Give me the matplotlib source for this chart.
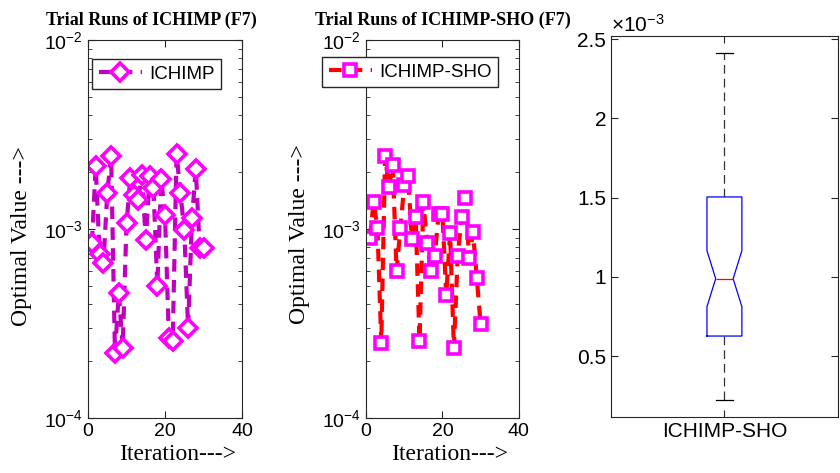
import numpy as np
import matplotlib
matplotlib.use("Agg")
import matplotlib.pyplot as plt
from matplotlib.ticker import FuncFormatter, LogLocator, NullFormatter

plt.rcParams['font.family'] = ['Liberation Sans', 'DejaVu Sans']
plt.rcParams['mathtext.default'] = 'regular'
plt.rcParams['axes.unicode_minus'] = False

# trial runs
iters = np.arange(1, 31)
ichimp = [8.4e-4, 2.15e-3, 7.4e-4, 6.6e-4, 1.55e-3, 2.44e-3, 2.2e-4, 4.6e-4, 2.35e-4, 1.07e-3,
          1.87e-3, 1.52e-3, 1.43e-3, 1.94e-3, 8.7e-4, 1.9e-3, 1.65e-3, 5.0e-4, 1.83e-3, 1.19e-3,
          2.65e-4, 2.55e-4, 2.49e-3, 1.55e-3, 9.9e-4, 3.0e-4, 1.14e-3, 2.07e-3, 7.9e-4, 7.9e-4]
ichimp_sho = [8.96e-4, 1.39e-3, 1.01e-3, 2.5e-4, 2.43e-3, 1.67e-3, 2.17e-3, 6.0e-4, 1.01e-3, 1.70e-3,
              1.91e-3, 8.9e-4, 1.16e-3, 2.55e-4, 1.39e-3, 8.4e-4, 6.0e-4, 7.2e-4, 1.2e-3, 1.2e-3,
              4.46e-4, 9.5e-4, 2.35e-4, 7.2e-4, 1.16e-3, 1.46e-3, 7.0e-4, 9.6e-4, 5.5e-4, 3.13e-4]

# box plot stats
box_label = 'ICHIMP-SHO'
box_med = 0.988e-3
box_q1 = 0.626e-3
box_q3 = 1.504e-3
box_lo = 0.222e-3
box_hi = 2.415e-3
box_cilo = 0.811e-3
box_cihi = 1.165e-3
box_ticks = [0.5e-3, 1e-3, 1.5e-3, 2e-3, 2.5e-3]

spine_c = '#262626'
serif = ['Liberation Serif', 'DejaVu Serif']

fig = plt.figure(figsize=(8.4, 4.73), dpi=100)

def style_log(ax):
    ax.set_yscale('log')
    ax.set_ylim(1e-4, 1e-2)
    ax.set_xlim(0, 40)
    ax.set_xticks([0, 20, 40])
    ax.yaxis.set_minor_locator(LogLocator(base=10, subs=np.arange(2, 10)))
    ax.yaxis.set_minor_formatter(NullFormatter())
    ax.tick_params(which='both', direction='in', top=True, right=True, labelsize=14, colors=spine_c)
    ax.tick_params(which='major', length=5)
    ax.tick_params(which='minor', length=3)
    ax.tick_params(labelcolor='black')
    for s in ax.spines.values():
        s.set_color(spine_c)
        s.set_linewidth(0.8)
    ax.set_ylabel('Optimal Value --->', family=serif, fontsize=17)
    ax.set_xlabel('Iteration--->', family=serif, fontsize=17)

# left panel
ax1 = fig.add_axes([0.1048, 0.1163, 0.1833, 0.799])
ax1.plot(iters, ichimp, color='#BF00BF', lw=3, linestyle=(0, (3, 2)), marker='D', ms=9,
         mec='#FF00FF', mfc='white', mew=2.6, label='ICHIMP')
style_log(ax1)
ax1.yaxis.set_label_coords(-0.364, 0.48)
ax1.xaxis.set_label_coords(0.584, -0.07)
ax1.text(0.41, 1.053, 'Trial Runs of ICHIMP (F7)', transform=ax1.transAxes, ha='center',
         va='center', family=serif, fontweight='bold', fontsize=13)
ax1.legend(loc='upper left', bbox_to_anchor=(0.1095, 0.8753), bbox_transform=fig.transFigure,
           fontsize=13.5, fancybox=False, edgecolor=spine_c, framealpha=1, borderaxespad=0,
           handlelength=2.3, handletextpad=0.4, borderpad=0.35)

# middle panel
ax2 = fig.add_axes([0.4357, 0.1163, 0.182, 0.799])
ax2.plot(iters, ichimp_sho, color='#FF0000', lw=3, linestyle=(0, (3, 2)), marker='s', ms=9,
         mec='#FF00FF', mfc='white', mew=2.6, label='ICHIMP-SHO')
style_log(ax2)
ax2.yaxis.set_label_coords(-0.366, 0.486)
ax2.xaxis.set_label_coords(0.549, -0.07)
ax2.text(0.5, 1.053, 'Trial Runs of ICHIMP-SHO (F7)', transform=ax2.transAxes, ha='center',
         va='center', family=serif, fontweight='bold', fontsize=13)
ax2.legend(loc='upper left', bbox_to_anchor=(0.3833, 0.8795), bbox_transform=fig.transFigure,
           fontsize=13.5, fancybox=False, edgecolor=spine_c, framealpha=1, borderaxespad=0,
           handlelength=2.3, handletextpad=0.4, borderpad=0.35)

# box plot panel
ax3 = fig.add_axes([0.7274, 0.1184, 0.270, 0.8055])
stats = [dict(med=box_med, q1=box_q1, q3=box_q3, whislo=box_lo, whishi=box_hi,
              cilo=box_cilo, cihi=box_cihi, fliers=[], label=box_label)]
ax3.bxp(stats, positions=[1], widths=0.154, shownotches=True, showfliers=False,
        boxprops=dict(color='#0000FF', lw=0.9),
        medianprops=dict(color='#FF0000', lw=0.9),
        whiskerprops=dict(color='#333333', lw=0.9, linestyle=(0, (7, 4))),
        capprops=dict(color='black', lw=0.9))
ax3.set_xlim(0.5, 1.5)
ax3.set_ylim(0.115e-3, 2.52e-3)
ax3.set_yticks(box_ticks)
ax3.yaxis.set_major_formatter(FuncFormatter(lambda v, p: '%g' % round(v * 1e3, 3)))
ax3.tick_params(direction='in', top=True, right=True, labelsize=15, length=5, colors=spine_c,
                labelcolor='black')
ax3.text(0.0, 1.0, r'$\times10^{-3}$', transform=ax3.transAxes, ha='left', va='bottom',
         fontsize=15)
for s in ax3.spines.values():
    s.set_color(spine_c)
    s.set_linewidth(0.8)

fig.savefig('out.png', dpi=100)
